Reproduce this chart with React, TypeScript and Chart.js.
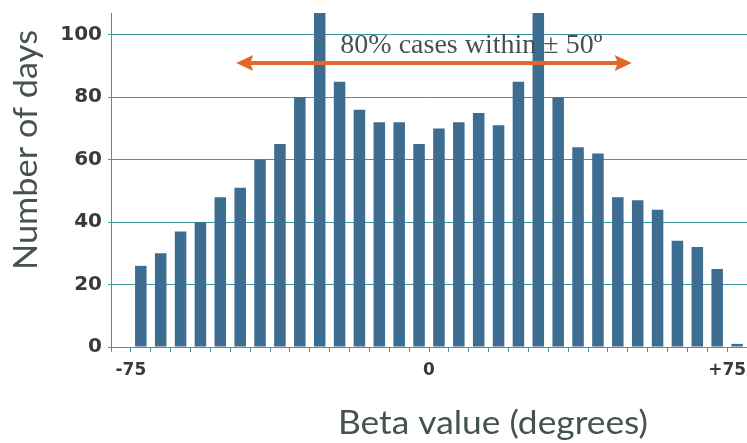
import React, { useEffect, useRef } from "react";
import { Chart, registerables } from "chart.js";

Chart.register(...registerables);

// Bin centres (degrees) and number of days in each 5-degree bin
const binCenters = [
  -72.5, -67.5, -62.5, -57.5, -52.5, -47.5, -42.5, -37.5, -32.5, -27.5,
  -22.5, -17.5, -12.5, -7.5, -2.5, 2.5, 7.5, 12.5, 17.5, 22.5,
  27.5, 32.5, 37.5, 42.5, 47.5, 52.5, 57.5, 62.5, 67.5, 72.5, 77.5,
];
const dayCounts = [
  26, 30, 37, 40, 48, 51, 60, 65, 80, 110,
  85, 76, 72, 72, 65, 70, 72, 75, 71, 85,
  110, 80, 64, 62, 48, 47, 44, 34, 32, 25, 1,
];

// Axis labels
const xTickLabels: Record<string, string> = { "-75": "-75", "0": "0", "75": "+75" };
const xTitle = "Beta value (degrees)";
const yTitle = "Number of days";

// Annotation
const noteText = "80% cases within \u00b1 50\u00ba";
const arrowFrom = -48.5;
const arrowTo = 51;
const arrowAt = 91;
const noteX = -22.3;
const noteY = 94.2;

const BAR = "#3d6d91";
const GRID = "#3f97a0";
const ORANGE = "#e4672a";
const TEXT = "#465252";

const decorPlugin = {
  id: "decor",
  afterDatasetsDraw(chart: any) {
    const { ctx, scales } = chart;
    const x = scales.x;
    const y = scales.y;
    ctx.save();
    const x1 = x.getPixelForValue(arrowFrom);
    const x2 = x.getPixelForValue(arrowTo);
    const yy = y.getPixelForValue(arrowAt);
    ctx.strokeStyle = ORANGE;
    ctx.fillStyle = ORANGE;
    ctx.lineWidth = 4;
    ctx.beginPath();
    ctx.moveTo(x1 + 12, yy);
    ctx.lineTo(x2 - 12, yy);
    ctx.stroke();
    ctx.beginPath();
    ctx.moveTo(x1, yy);
    ctx.lineTo(x1 + 17, yy - 8);
    ctx.lineTo(x1 + 14, yy);
    ctx.lineTo(x1 + 17, yy + 8);
    ctx.closePath();
    ctx.fill();
    ctx.beginPath();
    ctx.moveTo(x2, yy);
    ctx.lineTo(x2 - 17, yy - 8);
    ctx.lineTo(x2 - 14, yy);
    ctx.lineTo(x2 - 17, yy + 8);
    ctx.closePath();
    ctx.fill();

    ctx.font = '28px "Liberation Serif"';
    ctx.fillStyle = TEXT;
    ctx.textAlign = "left";
    ctx.textBaseline = "alphabetic";
    ctx.fillText(noteText, x.getPixelForValue(noteX), y.getPixelForValue(noteY));
    ctx.restore();
  },
  afterDraw(chart: any) {
    const { ctx } = chart;
    ctx.save();
    ctx.fillStyle = TEXT;
    ctx.font = '400 32px "Lato"';
    ctx.textAlign = "center";
    ctx.textBaseline = "middle";
    // y title
    let w = ctx.measureText(yTitle).width;
    ctx.translate(27, 150);
    ctx.rotate(-Math.PI / 2);
    ctx.scale(240 / w, 1);
    ctx.fillText(yTitle, 0, 0);
    ctx.restore();
    ctx.save();
    ctx.fillStyle = TEXT;
    ctx.font = '400 32px "Lato"';
    ctx.textAlign = "center";
    ctx.textBaseline = "alphabetic";
    w = ctx.measureText(xTitle).width;
    ctx.translate(493, 434);
    ctx.scale(310 / w, 1);
    ctx.fillText(xTitle, 0, 0);
    ctx.restore();
  },
};

export default function App() {
  const ref = useRef<HTMLCanvasElement | null>(null);
  useEffect(() => {
    if (!ref.current) return;
    const chart = new Chart(ref.current, {
      type: "bar",
      data: {
        datasets: [
          {
            data: binCenters.map((c, i) => ({ x: c, y: dayCounts[i] })),
            backgroundColor: BAR,
            borderWidth: 0,
            barPercentage: 0.58,
            categoryPercentage: 1,
          },
        ],
      },
      options: {
        responsive: false,
        animation: false,
        layout: { padding: { top: 13, left: 0, right: 0, bottom: 0 } },
        plugins: { legend: { display: false }, tooltip: { enabled: false } },
        scales: {
          x: {
            type: "linear",
            min: -80,
            max: 80,
            offset: false,
            grid: {
              offset: false,
              drawOnChartArea: false,
              drawTicks: true,
              tickLength: 5,
              color: GRID,
            },
            border: { color: GRID, width: 1 },
            ticks: {
              stepSize: 5,
              autoSkip: false,
              maxRotation: 0,
              padding: 8,
              color: "#3a3a3a",
              font: { family: "DejaVu Sans", weight: "bold", size: 17 },
              callback: (v: any) => xTickLabels[String(v)] ?? "",
            },
            afterFit: (s: any) => {
              s.height = 96;
              s.paddingLeft = 0;
              s.paddingRight = 0;
            },
          },
          y: {
            min: 0,
            max: 107,
            grid: { color: GRID, tickLength: 3, lineWidth: 1 },
            border: { color: GRID, width: 1 },
            ticks: {
              stepSize: 20,
              includeBounds: false,
              padding: 6,
              color: "#3a3a3a",
              font: { family: "DejaVu Sans", weight: "bold", size: 20 },
            },
            afterFit: (s: any) => {
              s.width = 111;
              s.paddingTop = 0;
              s.paddingBottom = 0;
            },
          },
        },
      },
      plugins: [decorPlugin],
    });
    return () => chart.destroy();
  }, []);
  return (
    <div style={{ position: "fixed", left: 0, top: 0, width: 747, height: 443, background: "#fff" }}>
      <canvas ref={ref} width={747} height={443} />
    </div>
  );
}
